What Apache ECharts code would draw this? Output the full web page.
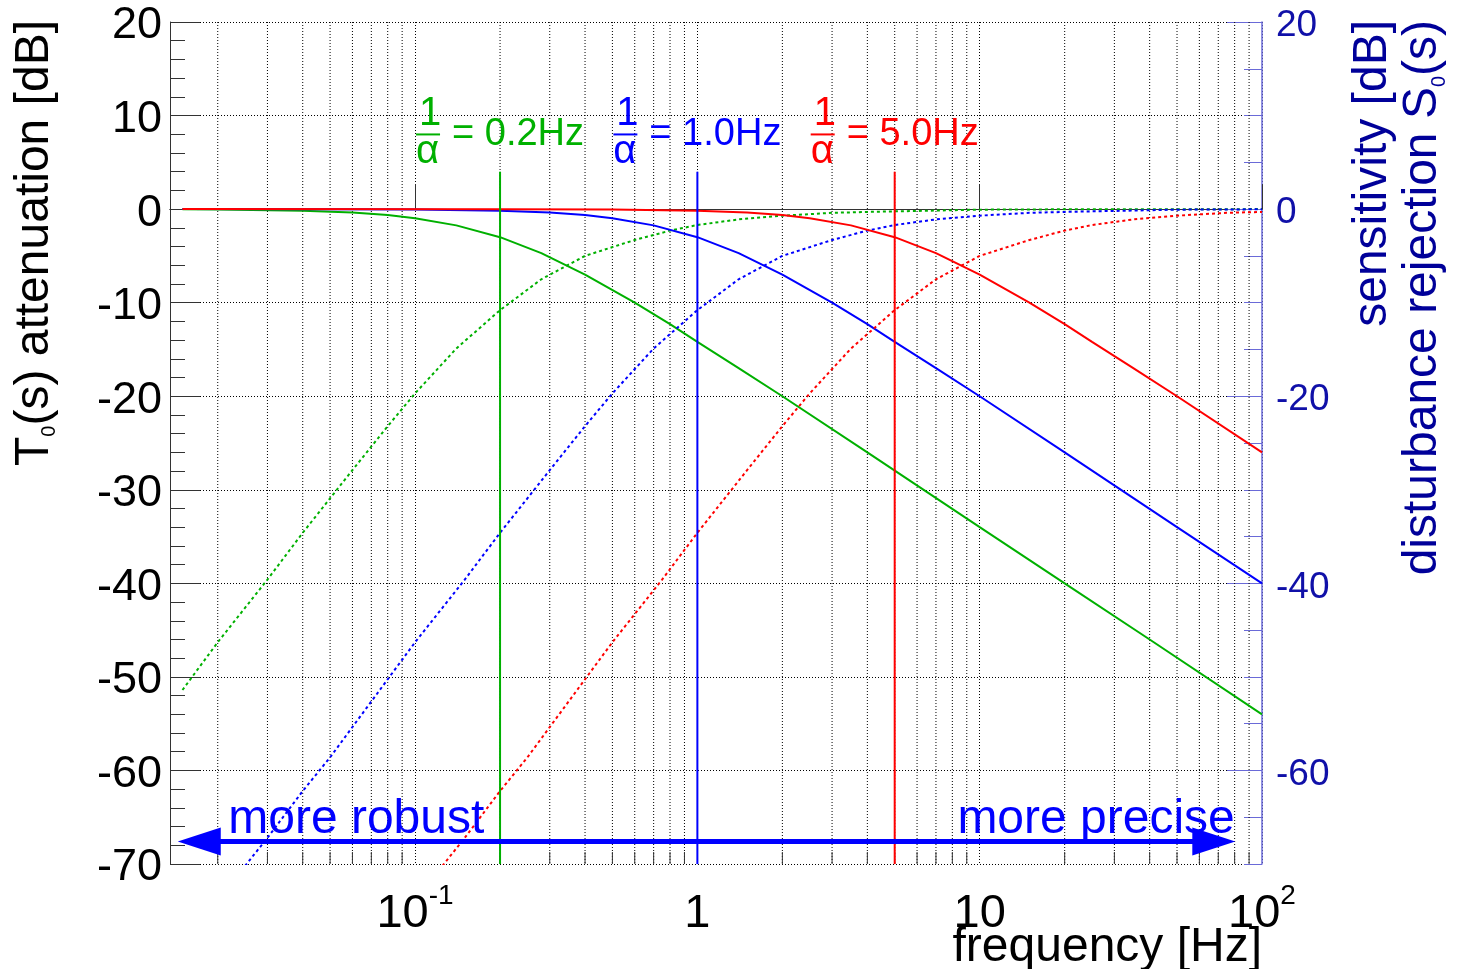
<!DOCTYPE html>
<html>
<head>
<meta charset="utf-8">
<title>T0(s) / S0(s)</title>
<script src="https://cdn.jsdelivr.net/npm/echarts@6/dist/echarts.min.js"></script>
<style>
  html, body { margin: 0; padding: 0; background: #fff; }
  #chart { width: 1460px; height: 969px; }
</style>
</head>
<body>
<div id="chart"></div>
<script>
// ---- data ----

// frequency axis
const freqMin = 0.01355;
const freqMax = 100;
const minorTicks = [
  0.02, 0.03, 0.04, 0.05, 0.06, 0.07, 0.08, 0.09,
  0.2, 0.3, 0.4, 0.5, 0.6, 0.7, 0.8, 0.9,
  2, 3, 4, 5, 6, 7, 8, 9,
  20, 30, 40, 50, 60, 70, 80, 90
];
const rightTickLabels = [20, 0, -20, -40, -60];

// T0(s) attenuation, solid lines [dB]
const tGreenFreq = [0.015, 0.02, 0.04, 0.06, 0.08, 0.1, 0.14, 0.2, 0.28, 0.4, 0.6, 0.8, 1, 1.4, 2, 4, 10, 20, 40, 100];
const tGreenDb   = [-0.02, -0.04, -0.17, -0.37, -0.64, -0.97, -1.74, -3.0, -4.7, -7.0, -10.0, -12.3, -14.2, -17.0, -20.0, -26.0, -34.0, -40.0, -46.0, -54.0];
const tBlueFreq  = [0.015, 0.05, 0.1, 0.2, 0.3, 0.4, 0.5, 0.7, 1, 1.4, 2, 3, 4, 5, 7, 10, 20, 50, 100];
const tBlueDb    = [0, -0.01, -0.04, -0.17, -0.37, -0.64, -0.97, -1.74, -3.0, -4.7, -7.0, -10.0, -12.3, -14.2, -17.0, -20.0, -26.0, -34.0, -40.0];
const tRedFreq   = [0.015, 0.2, 0.5, 1, 1.5, 2, 2.5, 3.5, 5, 7, 10, 15, 20, 25, 35, 50, 100];
const tRedDb     = [0, -0.01, -0.04, -0.17, -0.37, -0.64, -0.97, -1.74, -3.0, -4.7, -7.0, -10.0, -12.3, -14.2, -17.0, -20.0, -26.0];

// S0(s) sensitivity, dotted lines [dB]
const sGreenFreq = [0.015, 0.02, 0.03, 0.04, 0.06, 0.08, 0.1, 0.14, 0.2, 0.28, 0.4, 0.6, 0.8, 1, 1.4, 2, 3, 4, 10, 20, 100];
const sGreenDb   = [-51.4, -46.3, -39.6, -34.6, -27.9, -23.2, -19.7, -14.9, -10.8, -7.5, -5.0, -3.3, -2.3, -1.7, -1.1, -0.7, -0.4, -0.3, -0.06, -0.02, 0];
const sBlueFreq  = [0.025, 0.03, 0.04, 0.05, 0.075, 0.1, 0.15, 0.2, 0.3, 0.4, 0.5, 0.7, 1, 1.4, 2, 3, 4, 5, 7, 10, 15, 20, 50, 100];
const sBlueDb    = [-70.2, -67.2, -62.2, -58.6, -51.4, -46.3, -39.6, -34.6, -27.9, -23.2, -19.7, -14.9, -10.8, -7.5, -5.0, -3.3, -2.3, -1.7, -1.1, -0.7, -0.4, -0.3, -0.06, -0.02];
const sRedFreq   = [0.125, 0.15, 0.2, 0.25, 0.375, 0.5, 0.75, 1, 1.5, 2, 2.5, 3.5, 5, 7, 10, 15, 20, 25, 35, 50, 75, 100];
const sRedDb     = [-70.2, -67.2, -62.2, -58.6, -51.4, -46.3, -39.6, -34.6, -27.9, -23.2, -19.7, -14.9, -10.8, -7.5, -5.0, -3.3, -2.3, -1.7, -1.1, -0.7, -0.4, -0.3];

// 1/alpha markers
const cutoffFreq  = [0.2, 1.0, 5.0];
const cutoffText  = ['0.2Hz', '1.0Hz', '5.0Hz'];
const cutoffTopDb = 4;
const cutoffBotDb = -70;

// robust <-> precise arrow (centres of the two heads)
const arrowFreq = [0.0172, 67.5];
const arrowDb = -67.6;

// ---- chart ----
const FONT = 'Liberation Sans';
const GREEN = '#00b000', BLUE = '#0000ff', RED = '#ff0000';
const colors = [GREEN, BLUE, RED];
const NAVY = '#000099';
const AXIS_BLUE = '#6a6ad8';

const zip = (xs, ys) => xs.map((x, i) => [x, ys[i]]);

let myChart = echarts.init(document.getElementById('chart'), null, { renderer: 'canvas' });

function curve(name, freq, db, color, dotted) {
  return {
    name: name,
    type: 'line',
    data: zip(freq, db),
    showSymbol: false,
    symbol: 'none',
    smooth: false,
    clip: true,
    z: 3,
    lineStyle: { color: color, width: 2, type: dotted ? [3, 3] : 'solid' }
  };
}

function cutoffSeries(i) {
  const c = colors[i];
  return {
    type: 'line',
    data: [
      {
        value: [cutoffFreq[i], cutoffTopDb],
        label: {
          show: true,
          position: 'top',
          distance: 4,
          formatter: '{n|1}\n{bar|}{eq|= ' + cutoffText[i] + '}\n{d|α}',
          rich: {
            n: { fontFamily: FONT, fontSize: 40, lineHeight: 34, color: c, align: 'left', padding: [0, 0, 0, 3] },
            bar: { width: 24, height: 2, lineHeight: 6, backgroundColor: c, align: 'left' },
            eq: { fontFamily: FONT, fontSize: 38, lineHeight: 6, color: c, align: 'left', padding: [0, 0, 0, 12] },
            d: { fontFamily: FONT, fontSize: 40, lineHeight: 30, color: c, align: 'left' }
          }
        }
      },
      [cutoffFreq[i], cutoffBotDb]
    ],
    symbol: 'circle',
    symbolSize: 0.5,
    showSymbol: true,
    itemStyle: { color: c },
    label: { show: false },
    lineStyle: { color: c, width: 2 },
    z: 4,
    silent: true
  };
}

let option = {
  animation: false,
  backgroundColor: '#fff',
  textStyle: { fontFamily: FONT },
  grid: { left: 170, right: 198, top: 22, bottom: 105, containLabel: false },
  graphic: [{
    // x axis title, right-aligned under the axis end
    type: 'text',
    right: 198,
    top: 924,
    silent: true,
    style: { text: 'frequency [Hz]', font: '48px "Liberation Sans"', fill: '#000' }
  }],
  xAxis: [{
    type: 'log',
    logBase: 10,
    min: freqMin,
    max: freqMax,
    axisLine: { show: true, lineStyle: { color: '#333', width: 1 } },
    axisTick: { show: true, inside: true, length: 25, lineStyle: { color: '#333' } },
    splitLine: { show: true, lineStyle: { color: '#000', type: [1, 2], width: 1 } },
    axisLabel: {
      margin: 18,
      color: '#000',
      formatter: (v) => {
        const lg = Math.log10(v);
        const e = Math.round(lg);
        if (Math.abs(lg - e) > 0.01) return '';
        if (e === 0) return '{m|1}';
        if (e === 1) return '{m|10}';
        return '{m|10}{s|' + e + '}';
      },
      rich: {
        m: { fontFamily: FONT, fontSize: 47, lineHeight: 56, verticalAlign: 'bottom', color: '#000' },
        s: { fontFamily: FONT, fontSize: 28, lineHeight: 28, verticalAlign: 'top', color: '#000' }
      }
    }
  }, {
    type: 'log',
    logBase: 10,
    min: freqMin,
    max: freqMax,
    position: 'top',
    axisLine: { show: true, lineStyle: { color: '#333', width: 1 } },
    axisTick: { show: false },
    axisLabel: { show: false },
    splitLine: { show: false }
  }],
  yAxis: [{
    type: 'value',
    min: -70,
    max: 20,
    interval: 10,
    position: 'left',
    axisLine: { show: true, lineStyle: { color: '#333', width: 1 } },
    axisTick: { show: true, inside: true, length: 30, lineStyle: { color: '#333' } },
    minorTick: { show: true, splitNumber: 5, length: 15, lineStyle: { color: '#333' } },
    splitLine: { show: true, lineStyle: { color: '#000', type: [1, 2], width: 1 } },
    axisLabel: { fontFamily: FONT, fontSize: 45, color: '#000', margin: 8, verticalAlign: 'top', lineHeight: 8 },
    name: '{a|T}{sub|0}{a|(s) attenuation [dB]}',
    nameLocation: 'end',
    nameRotate: 90,
    nameGap: 2,
    nameMoveOverlap: false,
    nameTextStyle: {
      align: 'right', verticalAlign: 'bottom', padding: [0, 0, 111, 0],
      rich: {
        a: { fontFamily: FONT, fontSize: 48, lineHeight: 48, verticalAlign: 'top', color: '#000' },
        sub: { fontFamily: FONT, fontSize: 20, lineHeight: 18, verticalAlign: 'bottom', color: '#000' }
      }
    }
  }, {
    type: 'value',
    min: -70,
    max: 20,
    interval: 5,
    position: 'right',
    axisLine: { show: true, lineStyle: { color: AXIS_BLUE, width: 1.5 } },
    axisTick: { show: true, inside: true, length: 18, lineStyle: { color: AXIS_BLUE } },
    splitLine: { show: false },
    axisLabel: { fontFamily: FONT, fontSize: 37, color: '#1010a8', margin: 14, verticalAlign: 'top', lineHeight: 8, customValues: rightTickLabels },
    name: '{a|sensitivity [dB]}\n{a|disturbance rejection S}{sub|0}{a|(s)}',
    nameLocation: 'end',
    nameRotate: 90,
    nameGap: 2,
    nameMoveOverlap: false,
    nameTextStyle: {
      align: 'right', verticalAlign: 'top', padding: [87, 0, 0, 0],
      rich: {
        a: { fontFamily: FONT, fontSize: 48, lineHeight: 50, verticalAlign: 'top', color: NAVY },
        sub: { fontFamily: FONT, fontSize: 20, lineHeight: 18, verticalAlign: 'bottom', color: NAVY }
      }
    }
  }, {
    type: 'value',
    min: -70,
    max: 20,
    interval: 5,
    position: 'right',
    axisLine: { show: false },
    axisTick: { show: true, inside: true, length: 35, customValues: rightTickLabels, lineStyle: { color: AXIS_BLUE } },
    axisLabel: { show: false },
    splitLine: { show: false }
  }],
  series: [
    {
      // minor grid lines and ticks of the log axis
      type: 'custom',
      data: minorTicks.map(f => [f, 0]),
      silent: true,
      z: 1,
      renderItem: (params, api) => {
        const x = api.coord([api.value(0), 0])[0];
        const cs = params.coordSys;
        return {
          type: 'group',
          children: [
            { type: 'line', shape: { x1: x, y1: cs.y, x2: x, y2: cs.y + cs.height },
              style: { stroke: '#000', lineWidth: 1, lineDash: [1, 2] } },
            { type: 'line', shape: { x1: x, y1: cs.y + cs.height, x2: x, y2: cs.y + cs.height - 12 },
              style: { stroke: '#333', lineWidth: 1 } }
          ]
        };
      }
    },
    curve('T0 0.2Hz', tGreenFreq, tGreenDb, GREEN, false),
    curve('S0 0.2Hz', sGreenFreq, sGreenDb, GREEN, true),
    curve('T0 1.0Hz', tBlueFreq, tBlueDb, BLUE, false),
    curve('S0 1.0Hz', sBlueFreq, sBlueDb, BLUE, true),
    curve('T0 5.0Hz', tRedFreq, tRedDb, RED, false),
    curve('S0 5.0Hz', sRedFreq, sRedDb, RED, true),
    cutoffSeries(0),
    cutoffSeries(1),
    cutoffSeries(2),
    {
      // robust <-> precise arrow
      type: 'line',
      data: [],
      z: 5,
      markLine: {
        silent: true,
        animation: false,
        symbol: ['triangle', 'triangle'],
        symbolSize: [28, 43],
        lineStyle: { color: BLUE, width: 5, type: 'solid' },
        label: { show: false },
        data: [
          [
            { coord: [arrowFreq[0], arrowDb],
              label: { show: true, position: 'insideStartTop', distance: [29, -2], formatter: 'more robust',
                       fontFamily: FONT, fontSize: 48, color: BLUE } },
            { coord: [arrowFreq[1], arrowDb] }
          ],
          [
            { coord: [arrowFreq[0], arrowDb], symbol: 'none', lineStyle: { width: 0, color: 'rgba(0,0,0,0)' },
              label: { show: true, position: 'insideEndTop', distance: [-21, -2], formatter: 'more precise',
                       fontFamily: FONT, fontSize: 48, color: BLUE } },
            { coord: [arrowFreq[1], arrowDb], symbol: 'none' }
          ]
        ]
      }
    }
  ]
};

myChart.setOption(option);
</script>
</body>
</html>
